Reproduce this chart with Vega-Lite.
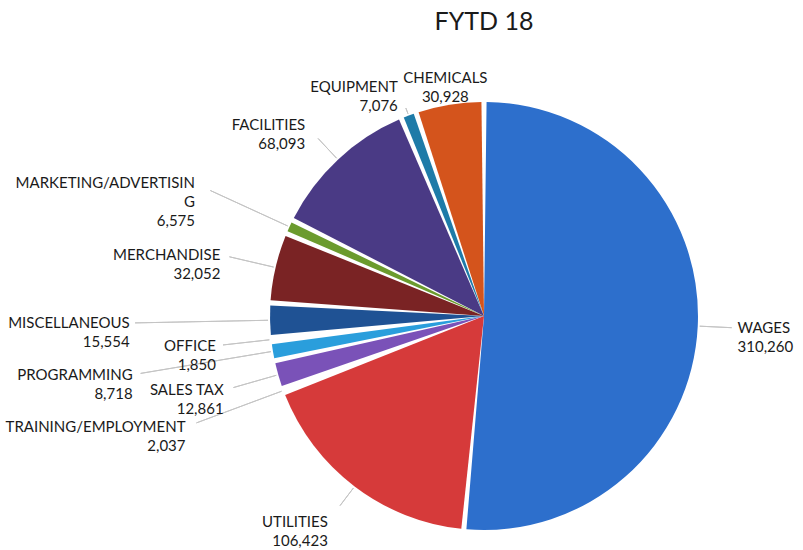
{
  "$schema": "https://vega.github.io/schema/vega-lite/v6.json",
  "width": 638,
  "height": 468,
  "autosize": "none",
  "padding": {"left": 165, "top": 82, "right": 0, "bottom": 0},
  "background": "white",
  "title": {
    "text": "FYTD 18",
    "font": "Lato",
    "fontSize": 25,
    "fontWeight": "normal",
    "color": "#1a1a1a",
    "anchor": "middle",
    "frame": "group",
    "offset": 36
  },
  "config": {"view": {"stroke": null}},
  "data": {
    "values": [
      {"name": "WAGES", "value": 310260, "order": 0},
      {"name": "UTILITIES", "value": 106423, "order": 1},
      {"name": "TRAINING/EMPLOYMENT", "value": 2037, "order": 2},
      {"name": "SALES TAX", "value": 12861, "order": 3},
      {"name": "PROGRAMMING", "value": 8718, "order": 4},
      {"name": "OFFICE", "value": 1850, "order": 5},
      {"name": "MISCELLANEOUS", "value": 15554, "order": 6},
      {"name": "MERCHANDISE", "value": 32052, "order": 7},
      {"name": "MARKETING/ADVERTISING", "value": 6575, "order": 8},
      {"name": "FACILITIES", "value": 68093, "order": 9},
      {"name": "EQUIPMENT", "value": 7076, "order": 10},
      {"name": "CHEMICALS", "value": 30928, "order": 11}
    ]
  },
  "transform": [
    {"joinaggregate": [{"op": "sum", "field": "value", "as": "total"}]},
    {"stack": "value", "groupby": [], "sort": [{"field": "order"}], "as": ["v0", "v1"]},
    {"calculate": "(datum.v0 + datum.v1) / 2", "as": "mid"},
    {"calculate": "length(datum.name) > 20 ? [substring(datum.name, 0, 20), substring(datum.name, 20), format(datum.value, ',')] : [datum.name, format(datum.value, ',')]", "as": "label"},
    {"calculate": "2 * PI * datum.mid / datum.total", "as": "ang"},
    {"calculate": "sin(datum.ang)", "as": "s"},
    {"calculate": "cos(datum.ang)", "as": "c"},
    {"calculate": "max(9.5 * min(length(datum.name), 20), 55)", "as": "w"},
    {"calculate": "(length(datum.name) > 20 ? 3 : 2) * 19 / 2", "as": "h2"},
    {"calculate": "abs(datum.s) <= 0.3 ? abs(datum.s) * datum.w / 2 : 0", "as": "cw"},
    {"calculate": "205 + 48 * abs(datum.s) + 15 * max(0, -datum.s) + abs(datum.c) * datum.h2 + datum.cw + ((datum.s < -0.9 && datum.order % 2 == 0) ? 86 : 0)", "as": "rd"},
    {"calculate": "datum.s < -0.3 ? min(datum.rd, (479 - datum.w) / abs(datum.s)) : datum.rd", "as": "r"},
    {"calculate": "max(datum.r - abs(datum.c) * datum.h2 - datum.cw - 5, 216)", "as": "rl"}
  ],
  "layer": [
    {
      "mark": {"type": "arc", "outerRadius": 214, "padAngle": 0.024},
      "encoding": {
        "theta": {"field": "value", "type": "quantitative", "stack": true},
        "order": {"field": "order", "type": "quantitative"},
        "color": {
          "field": "name",
          "type": "nominal",
          "legend": null,
          "scale": {
            "domain": ["WAGES", "UTILITIES", "TRAINING/EMPLOYMENT", "SALES TAX", "PROGRAMMING", "OFFICE", "MISCELLANEOUS", "MERCHANDISE", "MARKETING/ADVERTISING", "FACILITIES", "EQUIPMENT", "CHEMICALS"],
            "range": ["#2D6FCC", "#D63A3A", "#8DAF3C", "#7A52B8", "#2A9EDC", "#F0A030", "#1F5294", "#7A2324", "#6B9B2E", "#4A3A85", "#1E7BA8", "#D4541C"]
          }
        }
      }
    },
    {
      "mark": {
        "type": "arc",
        "fill": null,
        "filled": false,
        "stroke": "#c4c4c4",
        "strokeWidth": 1,
        "radius": {"expr": "datum.rl"},
        "radius2": 216
      },
      "encoding": {
        "theta": {"field": "mid", "type": "quantitative", "stack": null},
        "theta2": {"field": "mid"}
      }
    },
    {
      "mark": {
        "type": "text",
        "font": "Lato",
        "fontSize": 15,
        "lineHeight": 19,
        "color": "#1a1a1a",
        "baseline": "middle",
        "align": {"expr": "datum.s < -0.3 ? 'right' : (datum.s > 0.3 ? 'left' : 'center')"},
        "radius": {"expr": "datum.r"}
      },
      "encoding": {
        "theta": {"field": "mid", "type": "quantitative", "stack": null},
        "text": {"field": "label"}
      }
    }
  ]
}
